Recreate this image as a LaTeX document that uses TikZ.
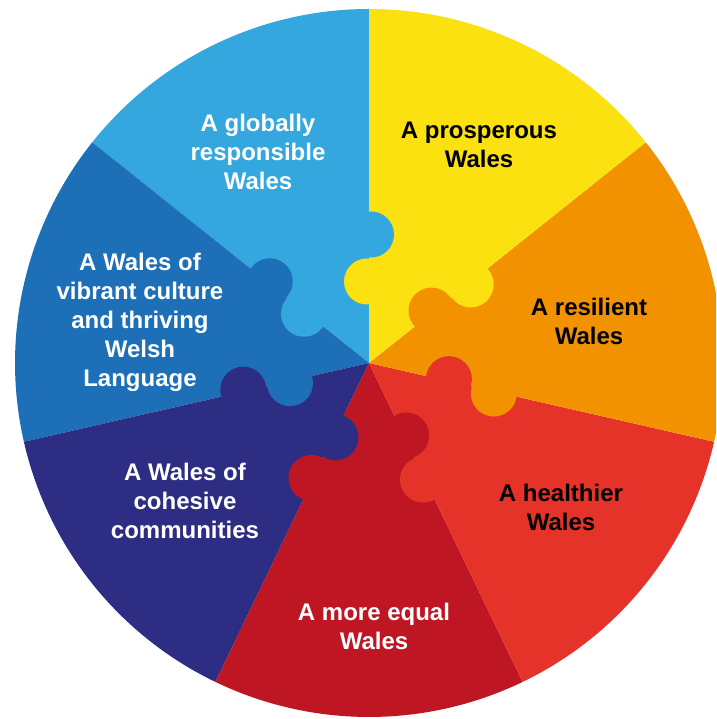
\documentclass[tikz,border=0pt]{standalone}
\usepackage{fontspec}
\setmainfont{Liberation Sans}
\definecolor{globalblue}{HTML}{35A7DF}
\definecolor{cultureblue}{HTML}{1D70B7}
\definecolor{cohesivenavy}{HTML}{2D2E83}
\definecolor{equalred}{HTML}{BE1622}
\definecolor{healthred}{HTML}{E5332A}
\definecolor{resilientorange}{HTML}{F39200}
\definecolor{prosperyellow}{HTML}{FBE10F}
\begin{document}
\begin{tikzpicture}[x=1pt,y=1pt]
            \tikzstyle{goal}=[align=center,font=\bfseries\fontsize{24}{29}\selectfont]
            \useasboundingbox (-369,-356) rectangle (347,363);
            \clip (-369,-356) rectangle (347,363);
            % wheel sectors
            \fill[globalblue] (0,0) -- (90:354) arc (90:141.43:354) -- cycle;
            \fill[cultureblue] (0,0) -- (141.43:354) arc (141.43:192.86:354) -- cycle;
            \fill[cohesivenavy] (0,0) -- (192.86:354) arc (192.86:244.29:354) -- cycle;
            \fill[equalred] (0,0) -- (244.29:354) arc (244.29:295.71:354) -- cycle;
            \fill[healthred] (0,0) -- (295.71:354) arc (295.71:347.14:354) -- cycle;
            \fill[resilientorange] (0,0) -- (347.14:354) arc (347.14:398.57:354) -- cycle;
            \fill[prosperyellow] (0,0) -- (38.57:354) arc (38.57:90:354) -- cycle;
            % puzzle knobs, inner ones
            \fill[prosperyellow,rotate=90] (81.5,2) circle (23);
            \fill[globalblue,rotate=141.43] (81.5,2) circle (23);
            \fill[cultureblue,rotate=192.86] (81.5,2) circle (23);
            \fill[cohesivenavy,rotate=244.29] (81.5,2) circle (23);
            \fill[equalred,rotate=295.71] (81.5,2) circle (23);
            \fill[healthred,rotate=347.14] (81.5,2) circle (23);
            \fill[resilientorange,rotate=38.57] (81.5,2) circle (23);
            % puzzle knobs, outer ones
            \fill[globalblue,rotate=90] (128.5,-2) circle (23);
            \fill[cultureblue,rotate=141.43] (128.5,-2) circle (23);
            \fill[cohesivenavy,rotate=192.86] (128.5,-2) circle (23);
            \fill[equalred,rotate=244.29] (128.5,-2) circle (23);
            \fill[healthred,rotate=295.71] (128.5,-2) circle (23);
            \fill[resilientorange,rotate=347.14] (128.5,-2) circle (23);
            \fill[prosperyellow,rotate=38.57] (128.5,-2) circle (23);
            % goal labels
            \node[goal,white] (global) at (-111,211) {A globally\\responsible\\Wales};
            \node[goal,black] (prosperous) at (110,218) {A prosperous\\Wales};
            \node[goal,black] (resilient) at (220,42) {A resilient\\Wales};
            \node[goal,black] (healthier) at (192,-144) {A healthier\\Wales};
            \node[goal,white] (equal) at (5,-263) {A more equal\\Wales};
            \node[goal,white] (cohesive) at (-184,-138) {A Wales of\\cohesive\\communities};
            \node[goal,white] (culture) at (-229,41) {A Wales of\\vibrant culture\\and thriving\\Welsh\\Language};
        \end{tikzpicture}
\end{document}
